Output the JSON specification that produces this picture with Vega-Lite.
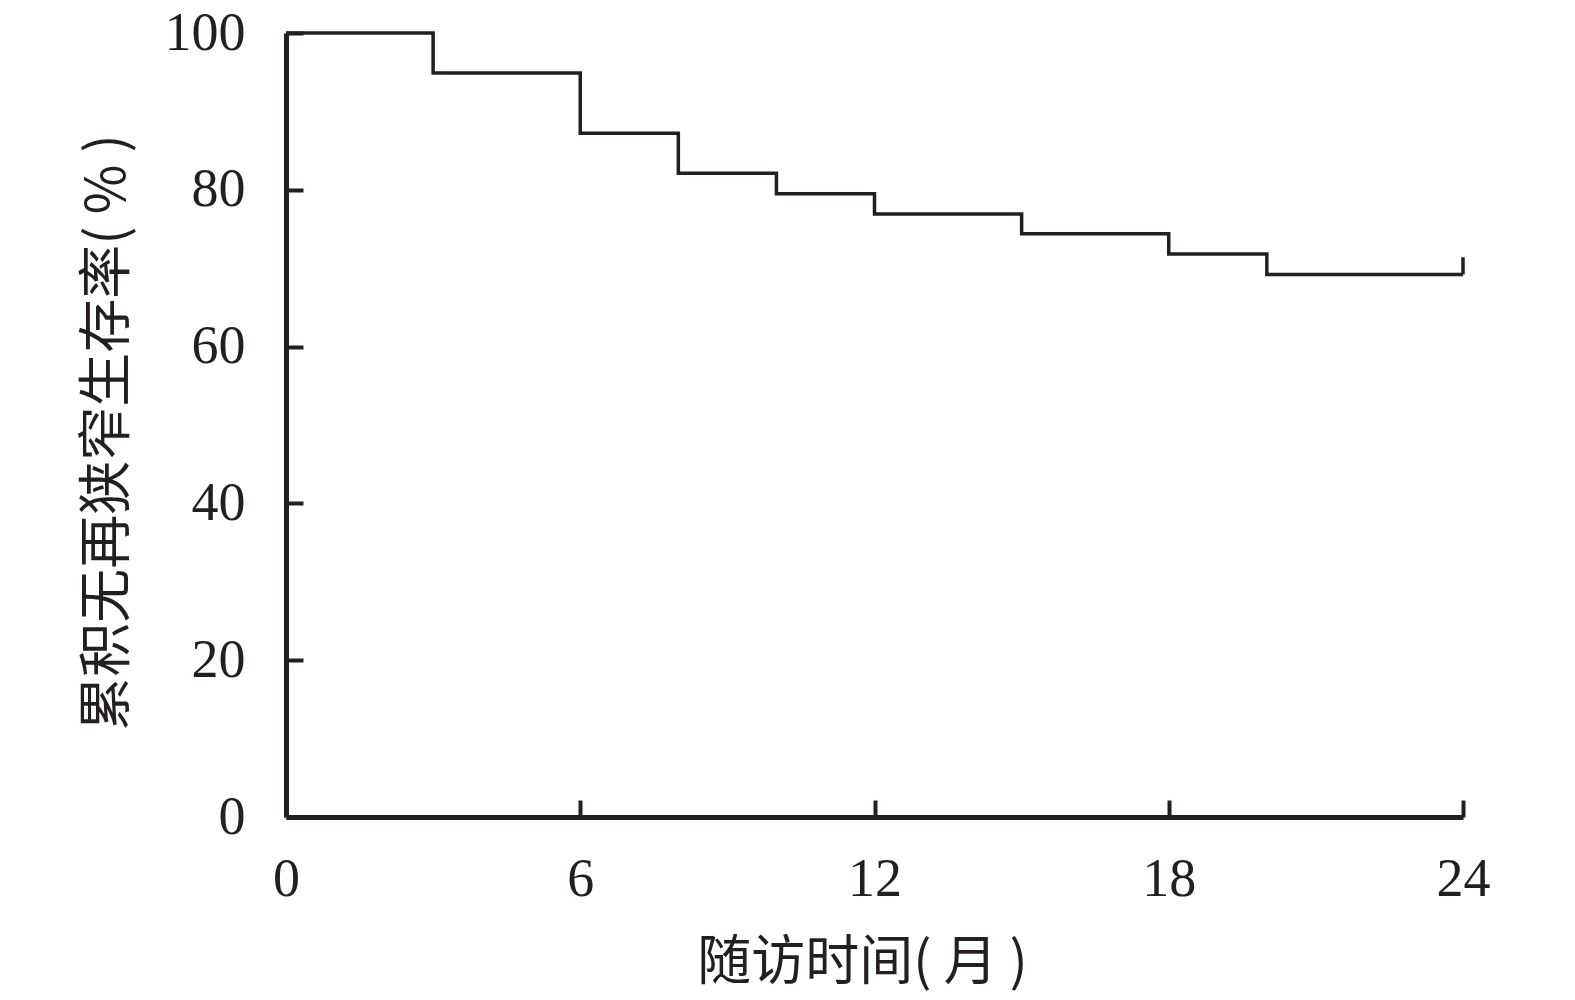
{
  "$schema": "https://vega.github.io/schema/vega-lite/v6.json",
  "width": 1177,
  "height": 784,
  "autosize": {"type": "none"},
  "padding": {"left": 286, "top": 33, "right": 112, "bottom": 183},
  "background": "white",
  "datasets": {
    "km": [
      {"t": 0, "s": 100},
      {"t": 3, "s": 94.9},
      {"t": 6, "s": 87.2},
      {"t": 8, "s": 82.1},
      {"t": 10, "s": 79.5},
      {"t": 12, "s": 76.9},
      {"t": 15, "s": 74.4},
      {"t": 18, "s": 71.8},
      {"t": 20, "s": 69.2},
      {"t": 24, "s": 69.2}
    ],
    "censor": [
      {"t": 24, "s": 69.2, "s2": 71.4}
    ]
  },
  "config": {
    "view": {"stroke": null},
    "axis": {
      "grid": false,
      "domainColor": "#231f20",
      "domainWidth": 5,
      "tickColor": "#231f20",
      "tickWidth": 4,
      "tickSize": -17,
      "labelFont": "Liberation Serif",
      "labelFontSize": 54,
      "labelColor": "#231f20",
      "labelFlush": false,
      "labelOverlap": false,
      "titleFont": "Noto Sans CJK SC",
      "titleFontSize": 54,
      "titleFontWeight": "normal",
      "titleColor": "#231f20"
    }
  },
  "layer": [
    {
      "data": {"name": "km"},
      "mark": {"type": "line", "interpolate": "step-after", "color": "#231f20", "strokeWidth": 3.5},
      "encoding": {
        "x": {
          "field": "t", "type": "quantitative",
          "scale": {"domain": [0, 24], "nice": false},
          "axis": {
            "values": [0, 6, 12, 18, 24],
            "title": "随访时间( 月 )",
            "labelPadding": 52,
            "titleX": 576,
            "titleY": 146,
            "titleBaseline": "middle",
            "titleAlign": "center"
          }
        },
        "y": {
          "field": "s", "type": "quantitative",
          "scale": {"domain": [0, 100], "nice": false},
          "axis": {
            "values": [0, 20, 40, 60, 80, 100],
            "title": "累积无再狭窄生存率( % )",
            "labelPadding": 58,
            "titleX": -178,
            "titleY": 399,
            "titleBaseline": "middle",
            "titleAlign": "center",
            "titleAngle": -90
          }
        }
      }
    },
    {
      "data": {"name": "censor"},
      "mark": {"type": "rule", "color": "#231f20", "strokeWidth": 3.5},
      "encoding": {
        "x": {"field": "t", "type": "quantitative"},
        "y": {"field": "s", "type": "quantitative"},
        "y2": {"field": "s2"}
      }
    }
  ]
}
